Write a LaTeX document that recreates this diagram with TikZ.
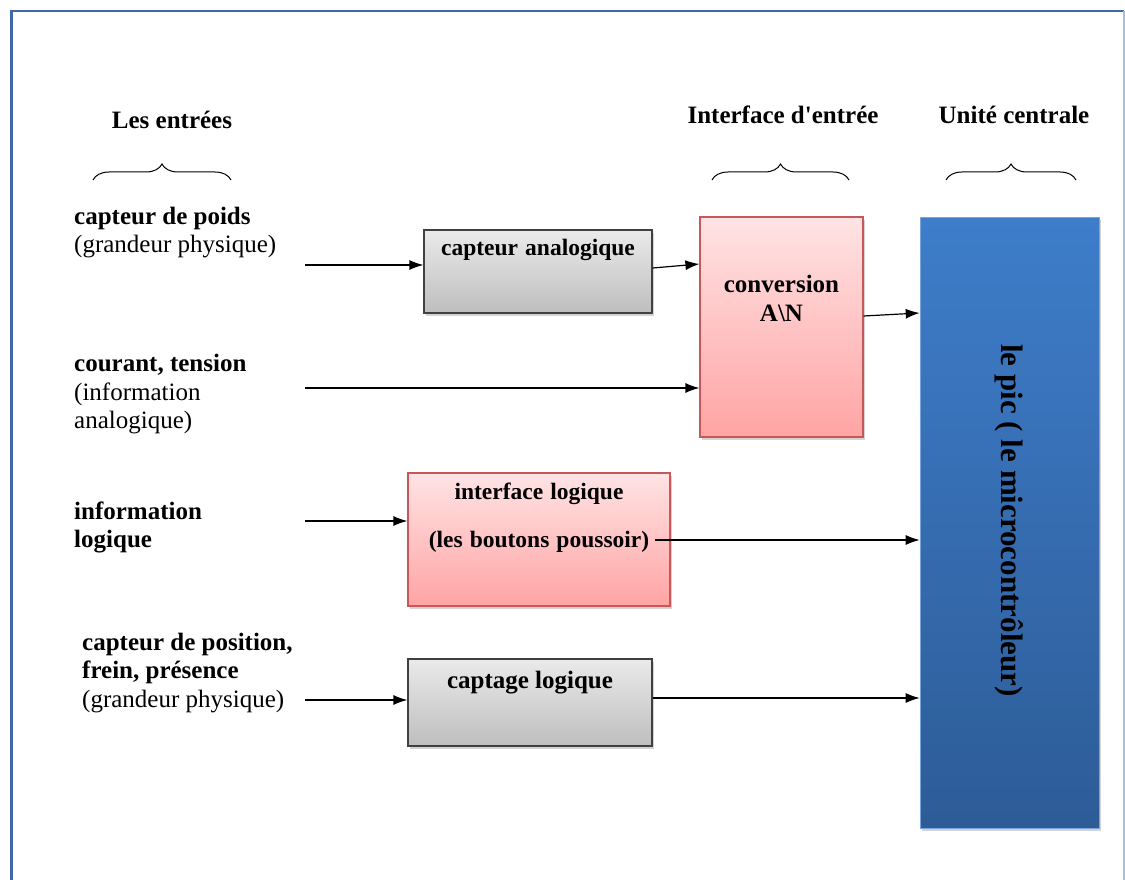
\documentclass[tikz,border=0pt]{standalone}
\usepackage{fontspec}
\setmainfont{Liberation Serif}
\usetikzlibrary{arrows.meta, positioning, calc, shadows, decorations.pathreplacing}
\definecolor{framebl}{HTML}{4068A6}
\definecolor{frameli}{HTML}{A9BEDD}
\definecolor{graytop}{HTML}{EAEAEA}
\definecolor{graybot}{HTML}{BEBEBE}
\definecolor{pinktop}{HTML}{FFE3E4}
\definecolor{pinkbot}{HTML}{FFA4A4}
\definecolor{pinkedge}{HTML}{C8575A}
\definecolor{pictop}{HTML}{3E7DCA}
\definecolor{picbot}{HTML}{2D5C97}
\tikzstyle{graybox} = [rectangle, draw=black!75, line width=1.2pt, top color=graytop, bottom color=graybot, drop shadow={shadow xshift=2pt, shadow yshift=-3pt, opacity=0.35}]
\tikzstyle{pinkbox} = [rectangle, draw=pinkedge, line width=1.2pt, top color=pinktop, bottom color=pinkbot, drop shadow={shadow xshift=2pt, shadow yshift=-3pt, opacity=0.35}]
\tikzstyle{picbox} = [rectangle, draw=pictop!70!white, line width=0.6pt, top color=pictop, bottom color=picbot, drop shadow={shadow xshift=2pt, shadow yshift=-3pt, opacity=0.35}]
\tikzstyle{intext} = [anchor=west, align=left, inner sep=0pt, font=\fontsize{25}{28.5}\selectfont]
\tikzstyle{title} = [inner sep=0pt, font=\fontsize{25}{28.5}\selectfont\bfseries]
\tikzstyle{boxlabel} = [inner sep=0pt, align=center, font=\fontsize{25}{28.5}\selectfont\bfseries]
\tikzstyle{arrow} = [line width=1.2pt, -{Latex[length=14pt, width=10pt]}]
\tikzstyle{curly} = [decorate, decoration={brace, amplitude=16pt}, line width=1pt]

\begin{document}
\begin{tikzpicture}[x=1pt, y=-1pt]
\useasboundingbox (0,0) rectangle (1125,880);

% frame
\draw[framebl, line width=3.5pt] (11.5,880) -- (11.5,11);
\draw[framebl, line width=2.5pt] (10,11) -- (1124,11);
\draw[frameli, line width=1.5pt] (1124,11) -- (1124,880);

% titles
\node (entrees) [title] at (172,120) {Les entrées};
\node (interf) [title] at (783,115) {Interface d\textquotesingle entrée};
\node (unite) [title] at (1014,115) {Unité centrale};
\draw[curly] (93,180) -- (231,180);
\draw[curly] (712,180) -- (849,180);
\draw[curly] (946,180) -- (1076,180);

% inputs
\node (poids) [intext] at (74,232.5) {\textbf{capteur de poids}\\(grandeur physique)};
\node (courant) [intext] at (74,394.5) {\textbf{courant, tension}\\(information\\analogique)};
\node (logiq) [intext] at (74,527.5) {\textbf{information}\\\textbf{logique}};
\node (position) [intext] at (82,673) {\textbf{capteur de position,}\\\textbf{frein, présence}\\(grandeur physique)};

% blocks
\node (ca) [graybox, minimum width=228pt, minimum height=83pt] at (538,271.5) {};
\node (conv) [pinkbox, minimum width=163pt, minimum height=220pt] at (781.5,327) {};
\node (il) [pinkbox, minimum width=262pt, minimum height=133pt] at (539,539.5) {};
\node (cl) [graybox, minimum width=244pt, minimum height=87pt] at (530,702.5) {};
\node (pic) [picbox, minimum width=179pt, minimum height=611pt] at (1009.5,522.5) {};

\node (ca-txt) [boxlabel, yshift=-21pt, font=\fontsize{23.5}{27}\selectfont\bfseries] at (ca.north) {capteur\hspace{0.3em}analogique};
\node (conv-txt) [boxlabel, yshift=-82pt] at (conv.north) {conversion\\A\textbackslash N};
\node (il-txt) [boxlabel, yshift=-45pt, font=\fontsize{23.5}{27}\selectfont\bfseries] at (il.north) {interface\hspace{0.3em}logique\\[21pt](les\hspace{0.3em}boutons\hspace{0.3em}poussoir)};
\node (cl-txt) [boxlabel, yshift=-24pt] at (cl.north) {captage logique};
\node (pic-txt) [boxlabel, rotate=-90, font=\fontsize{31}{34}\selectfont\bfseries] at ($(pic.center)+(0,-2)$) {le pic ( le microcontrôleur)};

% connections
\coordinate (in1) at (305,265);
\coordinate (in2) at (305,388);
\coordinate (in3) at (305,521);
\coordinate (in4) at (305,700);
\coordinate (ilout) at (655,540);
\coordinate (clout) at ($(cl.east)+(0,-4.5)$);

\draw[arrow] (in1) -- (in1 -| ca.west);
\draw[arrow] ($(ca.east)+(0,-3.5)$) -- ($(conv.west)+(0,-63)$);
\draw[arrow] (in2) -- (in2 -| conv.west);
\draw[arrow] ($(conv.east)+(0,-11)$) -- ($(pic.west)+(0,-209.5)$);
\draw[arrow] (in3) -- (in3 -| il.west);
\draw[arrow] (ilout) -- (ilout -| pic.west);
\draw[arrow] (in4) -- (in4 -| cl.west);
\draw[arrow] (clout) -- (clout -| pic.west);

\end{tikzpicture}
\end{document}
